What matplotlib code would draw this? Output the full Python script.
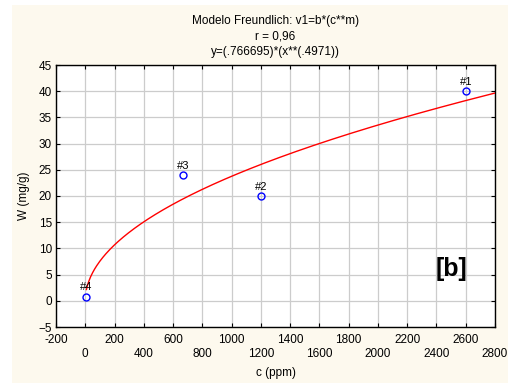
import numpy as np
import matplotlib.pyplot as plt
from matplotlib.patches import Rectangle

plt.rcParams['font.family'] = ['Liberation Sans', 'DejaVu Sans']

# datos experimentales
c = [2600, 1200, 670, 5]
w = [40, 20, 24, 0.8]
labels = ['#1', '#2', '#3', '#4']

# modelo Freundlich
b = 0.766695
m = 0.4971
xfit = np.linspace(8, 2800, 400)
yfit = b * xfit ** m

xticks = list(range(-200, 2801, 200))
yticks = list(range(-5, 46, 5))

fig = plt.figure(figsize=(5.08, 3.83), dpi=100)
fig.patch.set_facecolor('white')
fig.patches.append(Rectangle((12 / 508, 0), 1, 1 - 5 / 383, transform=fig.transFigure,
                             facecolor='#fdf9ee', edgecolor='none', zorder=-10))

ax = fig.add_axes([56 / 508, 56 / 383, 439 / 508, 262 / 383])
ax.set_facecolor('white')

ax.plot(xfit, yfit, color='red', lw=1.0, zorder=3)
ax.plot(c, w, 'o', mfc='none', mec='blue', ms=5, mew=1.0, zorder=4)
for xi, yi, t in zip(c, w, labels):
    ax.annotate(t, (xi, yi), xytext=(0, 3), textcoords='offset points',
                ha='center', va='bottom', fontsize=8)

ax.set_xlim(-200, 2800)
ax.set_ylim(-5, 45)
ax.set_xticks(xticks)
ax.set_xticklabels([str(v) if i % 2 == 0 else '\n' + str(v) for i, v in enumerate(xticks)],
                   linespacing=1.25)
ax.set_yticks(yticks)
ax.grid(True, color='#cccccc', lw=0.9)
ax.set_axisbelow(True)
ax.tick_params(direction='in', top=True, right=True, length=3, labelsize=8.5, pad=3)
ax.tick_params(axis='x', pad=5)
for s in ax.spines.values():
    s.set_linewidth(1.0)

ax.set_xlabel('c (ppm)', fontsize=8.5, labelpad=5)
ax.set_ylabel('W (mg/g)', fontsize=8.5, labelpad=6)
ax.set_title('Modelo Freundlich: v1=b*(c**m)\nr = 0,96\ny=(.766695)*(x**(.4971))',
             fontsize=8.5, linespacing=1.4, pad=7)

ax.text(0.90, 0.22, '[b]', transform=ax.transAxes, fontsize=18, fontweight='bold',
        ha='center', va='center')

fig.savefig('out.png', dpi=100)
